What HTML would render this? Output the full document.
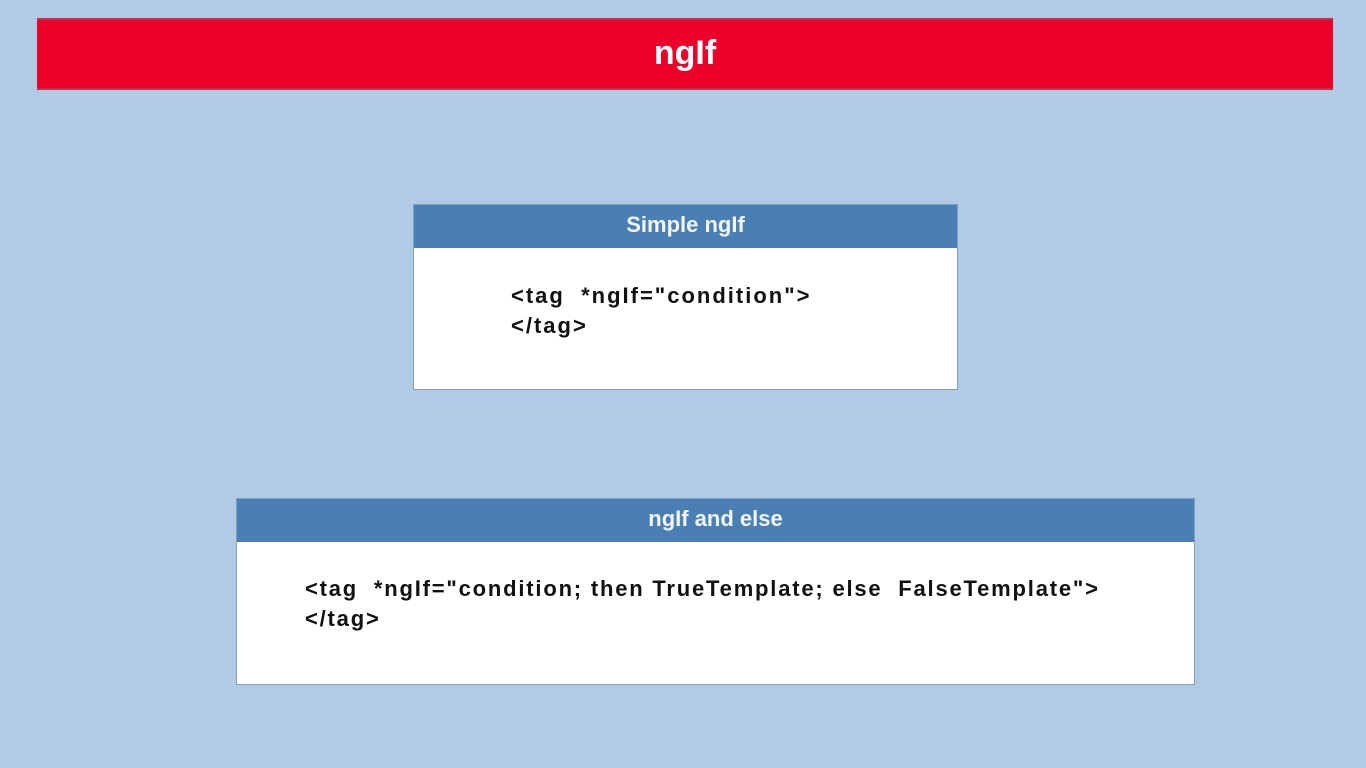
<!DOCTYPE html>
<html><head><meta charset="utf-8"><style>
html,body{margin:0;padding:0}
body{width:1366px;height:768px;background:#b1cbe4;position:relative;overflow:hidden;font-family:"Liberation Sans",sans-serif}
.bar{position:absolute;left:37px;top:18px;width:1296px;height:72px;background:#ea0029;border-top:2px solid #b5354a;border-bottom:2px solid #b5354a;box-sizing:border-box;color:#fff;font-weight:bold;font-size:34px;text-align:center;line-height:66px}
.box{position:absolute;background:#fff;border:1px solid #7f9fc2;box-sizing:border-box}
.hd{background:#4a7fb4;color:#f2f6fa;font-weight:bold;font-size:22px;text-align:center;height:43px;line-height:40px}
.code{position:absolute;color:#111;font-size:22px;font-weight:bold;letter-spacing:2px;line-height:30px;white-space:pre}
</style></head><body>
<div class="bar">ngIf</div>
<div class="box" style="left:413px;top:204px;width:545px;height:186px">
<div class="hd">Simple ngIf</div>
<div class="code" style="left:97px;top:76px">&lt;tag  *ngIf="condition"&gt;
&lt;/tag&gt;</div>
</div>
<div class="box" style="left:236px;top:498px;width:959px;height:187px">
<div class="hd">ngIf and else</div>
<div class="code" style="left:68px;top:75px;letter-spacing:1.8px">&lt;tag  *ngIf="condition; then TrueTemplate; else  FalseTemplate"&gt;
&lt;/tag&gt;</div>
</div>
</body></html>
